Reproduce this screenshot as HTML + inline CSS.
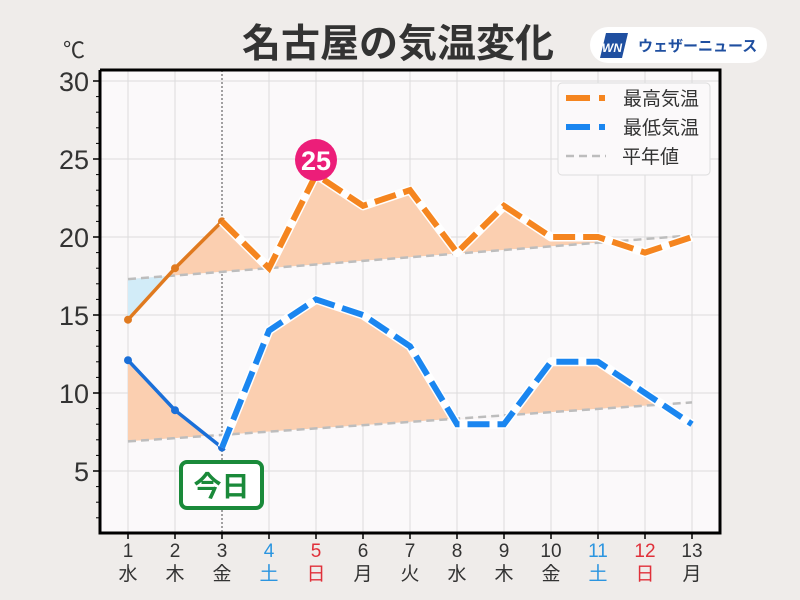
<!DOCTYPE html>
<html><head><meta charset="utf-8"><style>
body{margin:0;background:#efecea;}
svg{display:block;font-family:"Liberation Sans","Noto Sans CJK JP",sans-serif;}
</style></head><body>
<svg width="800" height="600" viewBox="0 0 800 600">
<defs>
<clipPath id="aboveH"><polygon points="100,0 720,0 720,235.4 692,235.4 128,279.1 100,279.1"/></clipPath>
<clipPath id="aboveL"><polygon points="100,0 720,0 720,402.4 692,402.4 128,441.4 100,441.4"/></clipPath>
</defs>
<rect width="800" height="600" fill="#efecea"/>
<text x="398" y="57" text-anchor="middle" font-size="39" font-weight="bold" fill="#333">名古屋の気温変化</text>
<rect x="590" y="27" width="177" height="36" rx="18" fill="#fff"/>
<polygon points="606,33 628,33 622,58 600,58" fill="#1f4fa0"/>
<text x="602" y="52" font-size="12" font-style="italic" font-weight="bold" fill="#fff">WN</text>
<text x="638" y="51" font-size="15" font-weight="bold" fill="#1f4fa0">ウェザーニュース</text>
<text x="63" y="58" font-size="22" fill="#333">℃</text>
<rect x="100" y="70" width="620" height="463" fill="#fbf9fa"/>
<g stroke="#dcdcdc" stroke-width="1">
<line x1="100" x2="720" y1="81" y2="81"/><line x1="100" x2="720" y1="159" y2="159"/><line x1="100" x2="720" y1="237" y2="237"/><line x1="100" x2="720" y1="315" y2="315"/><line x1="100" x2="720" y1="393" y2="393"/><line x1="100" x2="720" y1="471" y2="471"/>
<line x1="128" x2="128" y1="70" y2="533"/><line x1="175" x2="175" y1="70" y2="533"/><line x1="269" x2="269" y1="70" y2="533"/><line x1="316" x2="316" y1="70" y2="533"/><line x1="363" x2="363" y1="70" y2="533"/><line x1="410" x2="410" y1="70" y2="533"/><line x1="457" x2="457" y1="70" y2="533"/><line x1="504" x2="504" y1="70" y2="533"/><line x1="551" x2="551" y1="70" y2="533"/><line x1="598" x2="598" y1="70" y2="533"/><line x1="645" x2="645" y1="70" y2="533"/><line x1="692" x2="692" y1="70" y2="533"/>
</g>
<line x1="222" x2="222" y1="70" y2="533" stroke="#666" stroke-width="1.2" stroke-dasharray="2,2"/>
<g>
<polygon clip-path="url(#aboveH)" fill="#fbcfb0" points="128,319.7 175,268.2 222,221.4 269,268.2 316,174.6 363,205.8 410,190.2 457,252.6 504,205.8 551,237 598,237 645,252.6 692,237 692,235.4 128,279.1"/>
<polygon fill="#d2ecf8" points="128,319.7 167.8,276 128,279.1"/>
<polygon clip-path="url(#aboveL)" fill="#fbcfb0" points="128,360.2 175,410.2 222,447.6 269,330.6 316,299.4 363,315 410,346.2 457,424.2 504,424.2 551,361.8 598,361.8 645,393 692,424.2 692,402.4 128,441.4"/>
</g>
<line x1="128" y1="279.1" x2="692" y2="235.4" stroke="#bdbdbd" stroke-width="2.5" stroke-dasharray="8,5"/>
<line x1="128" y1="441.4" x2="692" y2="402.4" stroke="#bdbdbd" stroke-width="2.5" stroke-dasharray="8,5"/>
<polyline fill="none" stroke="#e07a1f" stroke-width="3.5" points="128,319.7 175,268.2 222,221.4"/>
<g fill="#e07a1f"><circle cx="128" cy="319.7" r="4"/><circle cx="175" cy="268.2" r="4"/><circle cx="222" cy="221.4" r="4"/></g>
<polyline fill="none" stroke="#fff" stroke-width="9" stroke-linejoin="round" points="222,221.4 269,268.2 316,174.6 363,205.8 410,190.2 457,252.6 504,205.8 551,237 598,237 645,252.6 692,237"/>
<polyline fill="none" stroke="#f5851f" stroke-width="6" stroke-dasharray="22,8" points="222,221.4 269,268.2 316,174.6 363,205.8 410,190.2 457,252.6 504,205.8 551,237 598,237 645,252.6 692,237"/>
<polyline fill="none" stroke="#1a6fd8" stroke-width="3.5" points="128,360.2 175,410.2 222,447.6"/>
<g fill="#1a6fd8"><circle cx="128" cy="360.2" r="4"/><circle cx="175" cy="410.2" r="4"/><circle cx="222" cy="447.6" r="4"/></g>
<polyline fill="none" stroke="#fff" stroke-width="9" stroke-linejoin="round" points="222,447.6 269,330.6 316,299.4 363,315 410,346.2 457,424.2 504,424.2 551,361.8 598,361.8 645,393 692,424.2"/>
<polyline fill="none" stroke="#1a86f0" stroke-width="6" stroke-dasharray="22,8" points="222,447.6 269,330.6 316,299.4 363,315 410,346.2 457,424.2 504,424.2 551,361.8 598,361.8 645,393 692,424.2"/>
<circle cx="316" cy="160" r="21" fill="#ec1e79"/>
<text x="316" y="170" text-anchor="middle" font-size="27" font-weight="bold" fill="#fff">25</text>
<rect x="181" y="462" width="81" height="46" rx="6" fill="#fff" stroke="#1a8a3a" stroke-width="4"/>
<text x="221.5" y="496" text-anchor="middle" font-size="28" font-weight="bold" fill="#1a8a3a">今日</text>
<rect x="558" y="83" width="152" height="92" rx="4" fill="#fbf9fa" stroke="#ddd"/>
<line x1="566" y1="98" x2="605" y2="98" stroke="#f5851f" stroke-width="6" stroke-dasharray="24,9"/>
<line x1="566" y1="127" x2="605" y2="127" stroke="#1a86f0" stroke-width="6" stroke-dasharray="24,9"/>
<line x1="566" y1="156" x2="606" y2="156" stroke="#bdbdbd" stroke-width="2.5" stroke-dasharray="8,5"/>
<g font-size="19" fill="#333"><text x="623" y="105">最高気温</text><text x="623" y="134">最低気温</text><text x="622" y="163">平年値</text></g>
<polyline fill="none" stroke="#000" stroke-width="3" points="100,70 100,533 720,533 720,70 100,70"/>
<g stroke="#000" stroke-width="1.5">
<line x1="93" x2="100" y1="81" y2="81"/><line x1="93" x2="100" y1="159" y2="159"/><line x1="93" x2="100" y1="237" y2="237"/><line x1="93" x2="100" y1="315" y2="315"/><line x1="93" x2="100" y1="393" y2="393"/><line x1="93" x2="100" y1="471" y2="471"/>
</g>
<g stroke="#000" stroke-width="1">
<line x1="96" x2="100" y1="96.6" y2="96.6"/><line x1="96" x2="100" y1="112.2" y2="112.2"/><line x1="96" x2="100" y1="127.8" y2="127.8"/><line x1="96" x2="100" y1="143.4" y2="143.4"/>
<line x1="96" x2="100" y1="174.6" y2="174.6"/><line x1="96" x2="100" y1="190.2" y2="190.2"/><line x1="96" x2="100" y1="205.8" y2="205.8"/><line x1="96" x2="100" y1="221.4" y2="221.4"/>
<line x1="96" x2="100" y1="252.6" y2="252.6"/><line x1="96" x2="100" y1="268.2" y2="268.2"/><line x1="96" x2="100" y1="283.8" y2="283.8"/><line x1="96" x2="100" y1="299.4" y2="299.4"/>
<line x1="96" x2="100" y1="330.6" y2="330.6"/><line x1="96" x2="100" y1="346.2" y2="346.2"/><line x1="96" x2="100" y1="361.8" y2="361.8"/><line x1="96" x2="100" y1="377.4" y2="377.4"/>
<line x1="96" x2="100" y1="408.6" y2="408.6"/><line x1="96" x2="100" y1="424.2" y2="424.2"/><line x1="96" x2="100" y1="439.8" y2="439.8"/><line x1="96" x2="100" y1="455.4" y2="455.4"/>
<line x1="96" x2="100" y1="486.6" y2="486.6"/><line x1="96" x2="100" y1="502.2" y2="502.2"/><line x1="96" x2="100" y1="517.8" y2="517.8"/>
</g>
<g font-size="27" fill="#333" text-anchor="end">
<text x="89" y="91">30</text><text x="89" y="169">25</text><text x="89" y="247">20</text><text x="89" y="325">15</text><text x="89" y="403">10</text><text x="89" y="481">5</text>
</g>
<g stroke="#000" stroke-width="1.5">
<line x1="128" x2="128" y1="533" y2="539"/><line x1="175" x2="175" y1="533" y2="539"/><line x1="222" x2="222" y1="533" y2="539"/><line x1="269" x2="269" y1="533" y2="539"/><line x1="316" x2="316" y1="533" y2="539"/><line x1="363" x2="363" y1="533" y2="539"/><line x1="410" x2="410" y1="533" y2="539"/><line x1="457" x2="457" y1="533" y2="539"/><line x1="504" x2="504" y1="533" y2="539"/><line x1="551" x2="551" y1="533" y2="539"/><line x1="598" x2="598" y1="533" y2="539"/><line x1="645" x2="645" y1="533" y2="539"/><line x1="692" x2="692" y1="533" y2="539"/>
</g>
<g font-size="19" text-anchor="middle" fill="#333">
<text x="128" y="557">1</text><text x="175" y="557">2</text><text x="222" y="557">3</text><text x="269" y="557" fill="#2b95e0">4</text><text x="316" y="557" fill="#e0303a">5</text><text x="363" y="557">6</text><text x="410" y="557">7</text><text x="457" y="557">8</text><text x="504" y="557">9</text><text x="551" y="557">10</text><text x="598" y="557" fill="#2b95e0">11</text><text x="645" y="557" fill="#e0303a">12</text><text x="692" y="557">13</text>
<text x="128" y="580">水</text><text x="175" y="580">木</text><text x="222" y="580">金</text><text x="269" y="580" fill="#2b95e0">土</text><text x="316" y="580" fill="#e0303a">日</text><text x="363" y="580">月</text><text x="410" y="580">火</text><text x="457" y="580">水</text><text x="504" y="580">木</text><text x="551" y="580">金</text><text x="598" y="580" fill="#2b95e0">土</text><text x="645" y="580" fill="#e0303a">日</text><text x="692" y="580">月</text>
</g>
</svg>
</body></html>
